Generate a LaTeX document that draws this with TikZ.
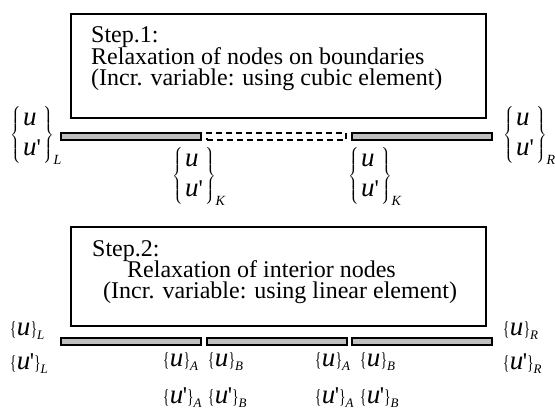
\documentclass[tikz,border=0pt]{standalone}
\usepackage{amsmath}
\usepackage{mathptmx}
\usepackage{graphicx}
\usepackage{fontspec}
\setmainfont{Liberation Serif}
\newcommand{\lbr}{\raisebox{3pt}{\fontsize{12}{12}\selectfont$\left\{\rule[-27pt]{0pt}{60pt}\right.$}}
\newcommand{\rbr}{\raisebox{3pt}{\fontsize{12}{12}\selectfont$\left.\rule[-27pt]{0pt}{60pt}\right\}$}}
\newcommand{\bu}{{\fontsize{27}{24}\selectfont\itshape u}}
\newcommand{\bvec}[1]{\lbr\hspace{1pt}{\renewcommand{\arraystretch}{1.25}\begin{tabular}{@{}l@{}}\bu\\\bu\textquotesingle\end{tabular}}\hspace{1pt}\rbr\raisebox{-24pt}{\fontsize{14}{14}\selectfont\textit{#1}}}
\newcommand{\sbr}[1]{\scalebox{0.65}[1]{\fontsize{20}{20}\selectfont#1}}
\newcommand{\sv}[2]{\sbr{\{}\kern0.5pt#1\kern0.5pt\sbr{\}}\raisebox{-4pt}{\fontsize{13}{13}\selectfont\textit{#2}}}
\newcommand{\upr}{\bu\kern-0.5pt\textquotesingle\kern-0.5pt}
\begin{document}
\begin{tikzpicture}[x=1pt,y=-1pt,
  stepbox/.style={draw,line width=2pt,anchor=north west,inner sep=0},
  bar/.style={draw,line width=2pt,fill=gray!50,anchor=north west,inner sep=0,minimum height=7pt},
  dbar/.style={draw,line width=1.6pt,dash pattern=on 6pt off 4pt,anchor=north west,inner sep=0,minimum height=7pt},
  txt/.style={font=\fontsize{24}{24}\selectfont,anchor=base west,inner sep=0},
  lab/.style={font=\fontsize{24}{24}\selectfont,inner sep=0},
  vec/.style={lab,anchor=west},
  sca/.style={lab,anchor=base west}]
\useasboundingbox (0,0) rectangle (555,412);
% Step 1
\node[stepbox,minimum width=415pt,minimum height=104pt] (box1) at (70,13) {};
\node[txt] (s1a) at (91,43) {Step.1:};
\node[txt] (s1b) at (91,64.5) {Relaxation of nodes on boundaries};
\node[txt] (s1c) at (91,86) {(Incr. variable: using cubic element)};
\node[bar,minimum width=140pt] (b11) at (60,132) {};
\node[dbar,minimum width=139pt] (b12) at (206,132) {};
\node[bar,minimum width=140pt] (b13) at (351,132) {};
\node[vec] (l1) at (10,135) {\bvec{L}};
\node[vec] (k1) at (172,176) {\bvec{K}};
\node[vec] (k2) at (348,176) {\bvec{K}};
\node[vec] (r1) at (503,135) {\bvec{R}};
% Step 2
\node[stepbox,minimum width=415pt,minimum height=99pt] (box2) at (70,226) {};
\node[txt] (s2a) at (92,256) {Step.2:};
\node[txt] (s2b) at (127,277) {Relaxation of interior nodes};
\node[txt] (s2c) at (103,298) {(Incr. variable: using linear element)};
\node[bar,minimum width=140pt] (b21) at (60,337) {};
\node[bar,minimum width=140pt] (b22) at (206,337) {};
\node[bar,minimum width=140pt] (b23) at (351,337) {};
\node[sca] (uL) at (10,335) {\sv{\bu}{L}};
\node[sca] (vL) at (10,369) {\sv{\upr}{L}};
\node[sca] (uA1) at (163,366) {\sv{\bu}{A}};
\node[sca] (uB1) at (208,366) {\sv{\bu}{B}};
\node[sca] (vA1) at (163,403) {\sv{\upr}{A}};
\node[sca] (vB1) at (208,403) {\sv{\upr}{B}};
\node[sca] (uA2) at (315,366) {\sv{\bu}{A}};
\node[sca] (uB2) at (360,366) {\sv{\bu}{B}};
\node[sca] (vA2) at (315,403) {\sv{\upr}{A}};
\node[sca] (vB2) at (360,403) {\sv{\upr}{B}};
\node[sca] (uR) at (503,335) {\sv{\bu}{R}};
\node[sca] (vR) at (503,369) {\sv{\upr}{R}};
\end{tikzpicture}
\end{document}
